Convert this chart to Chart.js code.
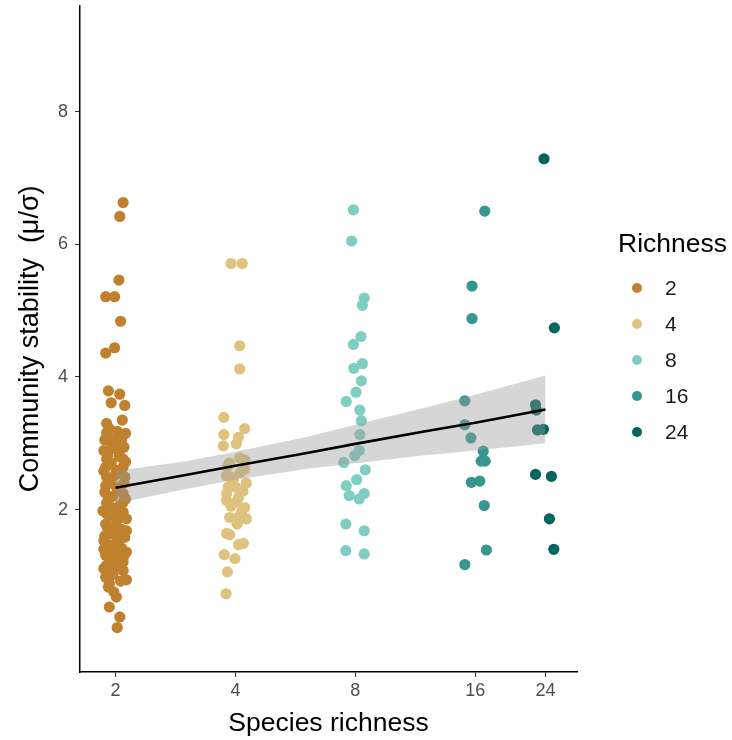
<!DOCTYPE html>
<html>
<head>
<meta charset="utf-8">
<script src="https://cdn.jsdelivr.net/npm/chart.js@4.4.1/dist/chart.umd.min.js"></script>
<style>
body { margin: 0; background: #fff; }
#wrap { position: relative; width: 732px; height: 740px; }
#legend { position: absolute; left: 0; top: 0; font-family: 'Liberation Sans', Arial, sans-serif; }
.lg-title { position: absolute; left: 618px; top: 228px; font-size: 26.5px; line-height: 30px; color: #000; white-space: nowrap; }
.lg-item { position: absolute; left: 632px; height: 24px; font-size: 21px; line-height: 24px; color: #1a1a1a; }
.lg-item .dot { position: absolute; left: 0; top: 7px; width: 10px; height: 10px; border-radius: 50%; }
.lg-item .lab { position: absolute; left: 33px; top: 0; }
</style>
</head>
<body>
<div id="wrap">
	<canvas id="chart" width="732" height="740"></canvas>
	<div id="legend"></div>
</div>
<script>
var richness = [2, 4, 8, 16, 24];
var colors = ['#BF812D', '#DFC27D', '#80CDC1', '#35978F', '#01665E'];

// jittered points, x = richness (jitter included), y = stability
var r2x = [2.09, 2.05, 2.04, 1.89, 1.99, 2.06, 1.99, 1.89, 1.92, 2.05, 1.95, 2.11, 2.08, 1.90, 1.90, 2.12, 1.98, 2.07, 1.87, 2.05,
	1.90, 2.09, 1.89, 2.09, 2.01, 1.90, 2.11, 1.89, 2.01, 2.09, 1.92, 2.09, 1.96, 1.90, 2.07, 2.13, 1.89, 2.00, 2.13, 1.94,
	1.87, 2.05, 1.98, 2.13, 1.89, 2.03, 1.94, 2.09, 1.87, 1.98, 2.09, 2.13, 1.92, 1.98, 2.01, 1.93, 2.05, 2.02,
	1.93, 2.02, 2.08, 1.88, 1.96, 2.10, 1.99, 1.91, 2.04, 2.12, 1.95, 1.87, 2.06, 1.98, 1.93, 2.10, 2.03, 1.88, 1.97, 2.12,
	1.90, 2.05, 1.99, 1.86, 2.09, 1.94, 2.02, 1.91, 2.07, 1.97, 1.88, 2.11, 2.01, 1.93, 2.07, 1.87, 2.00, 1.95, 2.10, 1.90,
	2.04, 1.97, 1.89, 2.06, 1.93];
var r2y = [6.63, 6.42, 5.46, 5.21, 5.21, 4.84, 4.44, 4.36, 3.79, 3.74, 3.61, 3.57, 3.35, 3.30, 3.16, 3.15, 3.06, 3.01, 2.89, 2.89,
	2.76, 2.76, 2.64, 2.64, 2.59, 2.49, 2.49, 2.36, 2.34, 2.24, 2.18, 2.11, 2.03, 1.94, 1.88, 1.86, 1.78, 1.76, 1.68, 1.63,
	1.53, 1.56, 1.43, 1.36, 1.31, 1.28, 1.21, 1.21, 1.11, 1.09, 1.08, 0.94, 0.83, 0.76, 0.68, 0.53, 0.38, 0.22,
	3.22, 3.18, 3.10, 3.05, 2.98, 2.94, 2.92, 2.82, 2.80, 2.72, 2.70, 2.58, 2.55, 2.50, 2.44, 2.40, 2.28, 2.26, 2.20, 2.16,
	2.10, 2.06, 2.00, 1.98, 1.96, 1.90, 1.84, 1.72, 1.70, 1.66, 1.60, 1.58, 1.50, 1.46, 1.42, 1.40, 1.34, 1.25, 1.30, 1.16,
	1.14, 1.02, 0.98, 0.92, 0.88];

var r4x = [3.90, 4.16, 4.10, 4.10, 3.74, 4.22, 3.74, 4.07, 4.02, 3.73, 4.10, 4.22, 3.82, 4.22, 3.80, 3.91, 4.26, 3.84, 4.02, 3.80,
	4.07, 3.80, 4.02, 4.22, 3.87, 4.07, 4.26, 4.14, 3.80, 3.87, 4.07, 4.19, 3.75, 3.99, 3.82, 3.79, 3.86, 4.12, 3.95, 4.18,
	3.90, 4.04];
var r4y = [5.71, 5.71, 4.47, 4.12, 3.39, 3.22, 3.13, 3.09, 2.99, 2.96, 2.78, 2.75, 2.64, 2.61, 2.51, 2.49, 2.40, 2.34, 2.33, 2.24,
	2.18, 2.14, 2.11, 2.03, 1.88, 1.88, 1.86, 1.96, 1.64, 1.62, 1.47, 1.49, 1.32, 1.26, 1.06, 0.73, 2.70, 2.56, 2.44, 2.28,
	2.05, 1.78];

var r8x = [7.91, 7.83, 8.42, 8.33, 8.26, 7.91, 8.33, 7.93, 8.28, 8.03, 7.59, 8.21, 8.28, 8.21, 8.18, 7.97, 7.48, 8.47, 8.06, 7.59,
	7.72, 8.42, 8.18, 7.57, 8.42, 7.57, 8.42];
var r8y = [6.52, 6.05, 5.19, 5.08, 4.61, 4.49, 4.20, 4.13, 3.94, 3.77, 3.63, 3.50, 3.34, 3.13, 2.89, 2.81, 2.71, 2.60, 2.45, 2.36,
	2.21, 2.24, 2.16, 1.78, 1.68, 1.38, 1.33];

var r16x = [16.9, 15.7, 15.7, 15.06, 15.06, 15.6, 16.75, 16.56, 16.94, 15.63, 16.42, 16.85, 17.06, 15.06];
var r16y = [6.50, 5.37, 4.88, 3.64, 3.28, 3.08, 2.88, 2.73, 2.73, 2.41, 2.43, 2.06, 1.39, 1.17];

var r24x = [23.8, 25.27, 22.66, 22.77, 22.92, 23.72, 22.66, 24.84, 24.56, 25.19];
var r24y = [7.29, 4.74, 3.58, 3.50, 3.20, 3.21, 2.53, 2.50, 1.86, 1.40];

// linear fit with its confidence band
var fitX = [2, 3, 4, 6, 8, 12, 16, 24];
var fitY = [2.33, 2.52, 2.66, 2.85, 2.99, 3.18, 3.31, 3.51];
var fitLow = [2.09, 2.31, 2.45, 2.61, 2.70, 2.82, 2.89, 3.00];
var fitHigh = [2.58, 2.73, 2.87, 3.09, 3.28, 3.54, 3.73, 4.02];

var yTicks = [2, 4, 6, 8];
var fontFamily = "'Liberation Sans', Arial, sans-serif";

function toPoints(xs, ys) {
	var pts = [];
	for (var i = 0; i < xs.length; i++) {
		pts.push({ x: xs[i], y: ys[i] });
	}
	return pts;
}

var groups = [[r2x, r2y], [r4x, r4y], [r8x, r8y], [r16x, r16y], [r24x, r24y]];
var datasets = [];

for (var i = 0; i < groups.length; i++) {
	datasets.push({
		label: String(richness[i]),
		data: toPoints(groups[i][0], groups[i][1]),
		backgroundColor: colors[i],
		pointRadius: 5.6,
		pointHoverRadius: 5.6,
		pointBorderWidth: 0,
		order: 3
	});
}

datasets.push({
	type: 'line',
	label: 'low',
	data: toPoints(fitX, fitLow),
	borderWidth: 0,
	pointRadius: 0,
	fill: false,
	order: 2
});
datasets.push({
	type: 'line',
	label: 'high',
	data: toPoints(fitX, fitHigh),
	borderWidth: 0,
	pointRadius: 0,
	backgroundColor: 'rgba(153,153,153,0.4)',
	fill: '-1',
	order: 2
});
datasets.push({
	type: 'line',
	label: 'fit',
	data: toPoints(fitX, fitY),
	borderColor: '#000000',
	borderWidth: 2.6,
	pointRadius: 0,
	fill: false,
	order: 1
});

var ctx = document.getElementById('chart').getContext('2d');
var chart = new Chart(ctx, {
	type: 'scatter',
	data: { datasets: datasets },
	options: {
		responsive: false,
		animation: false,
		devicePixelRatio: 1,
		events: [],
		layout: { padding: { left: 0, right: 155, top: 4, bottom: 0 } },
		plugins: {
			legend: { display: false },
			tooltip: { enabled: false }
		},
		scales: {
			x: {
				type: 'logarithmic',
				min: 1.629,
				max: 28.8,
				bounds: 'data',
				afterBuildTicks: function (scale) {
					scale.ticks = richness.map(function (v) { return { value: v }; });
				},
				afterFit: function (scale) {
					scale.height = 68;
					scale.paddingLeft = 0;
					scale.paddingRight = 0;
				},
				grid: { drawOnChartArea: false, tickLength: 5, color: '#333333', lineWidth: 1 },
				border: { color: '#000000', width: 1.5 },
				ticks: {
					color: '#4D4D4D',
					padding: 3,
					maxRotation: 0,
					autoSkip: false,
					font: { size: 18, family: fontFamily },
					callback: function (v) { return String(v); }
				},
				title: {
					display: true,
					text: 'Species richness',
					color: '#000000',
					padding: { top: 0, bottom: 0 },
					font: { size: 26.5, family: fontFamily }
				}
			},
			y: {
				min: -0.45,
				max: 9.6,
				bounds: 'data',
				afterBuildTicks: function (scale) {
					scale.ticks = yTicks.map(function (v) { return { value: v }; });
				},
				afterFit: function (scale) {
					scale.width = 80;
					scale.paddingTop = 0;
					scale.paddingBottom = 0;
				},
				grid: { drawOnChartArea: false, tickLength: 5, color: '#333333', lineWidth: 1 },
				border: { color: '#000000', width: 1.5 },
				ticks: {
					color: '#4D4D4D',
					padding: 7,
					font: { size: 18, family: fontFamily },
					callback: function (v) { return String(v); }
				},
				title: {
					display: true,
					text: 'Community stability  (μ/σ)',
					color: '#000000',
					padding: { top: 14, bottom: 0 },
					font: { size: 27, family: fontFamily }
				}
			}
		}
	}
});

// legend on the right, built from the same category / colour arrays
function showLegend() {
	var html = '<div class="lg-title">Richness</div>';
	for (var i = 0; i < richness.length; i++) {
		html += '<div class="lg-item" style="top:' + (276 + i * 36) + 'px">' +
			'<span class="dot" style="background:' + colors[i] + '"></span>' +
			'<span class="lab">' + richness[i] + '</span></div>';
	}
	document.getElementById('legend').innerHTML = html;
}

showLegend();
</script>
</body>
</html>
